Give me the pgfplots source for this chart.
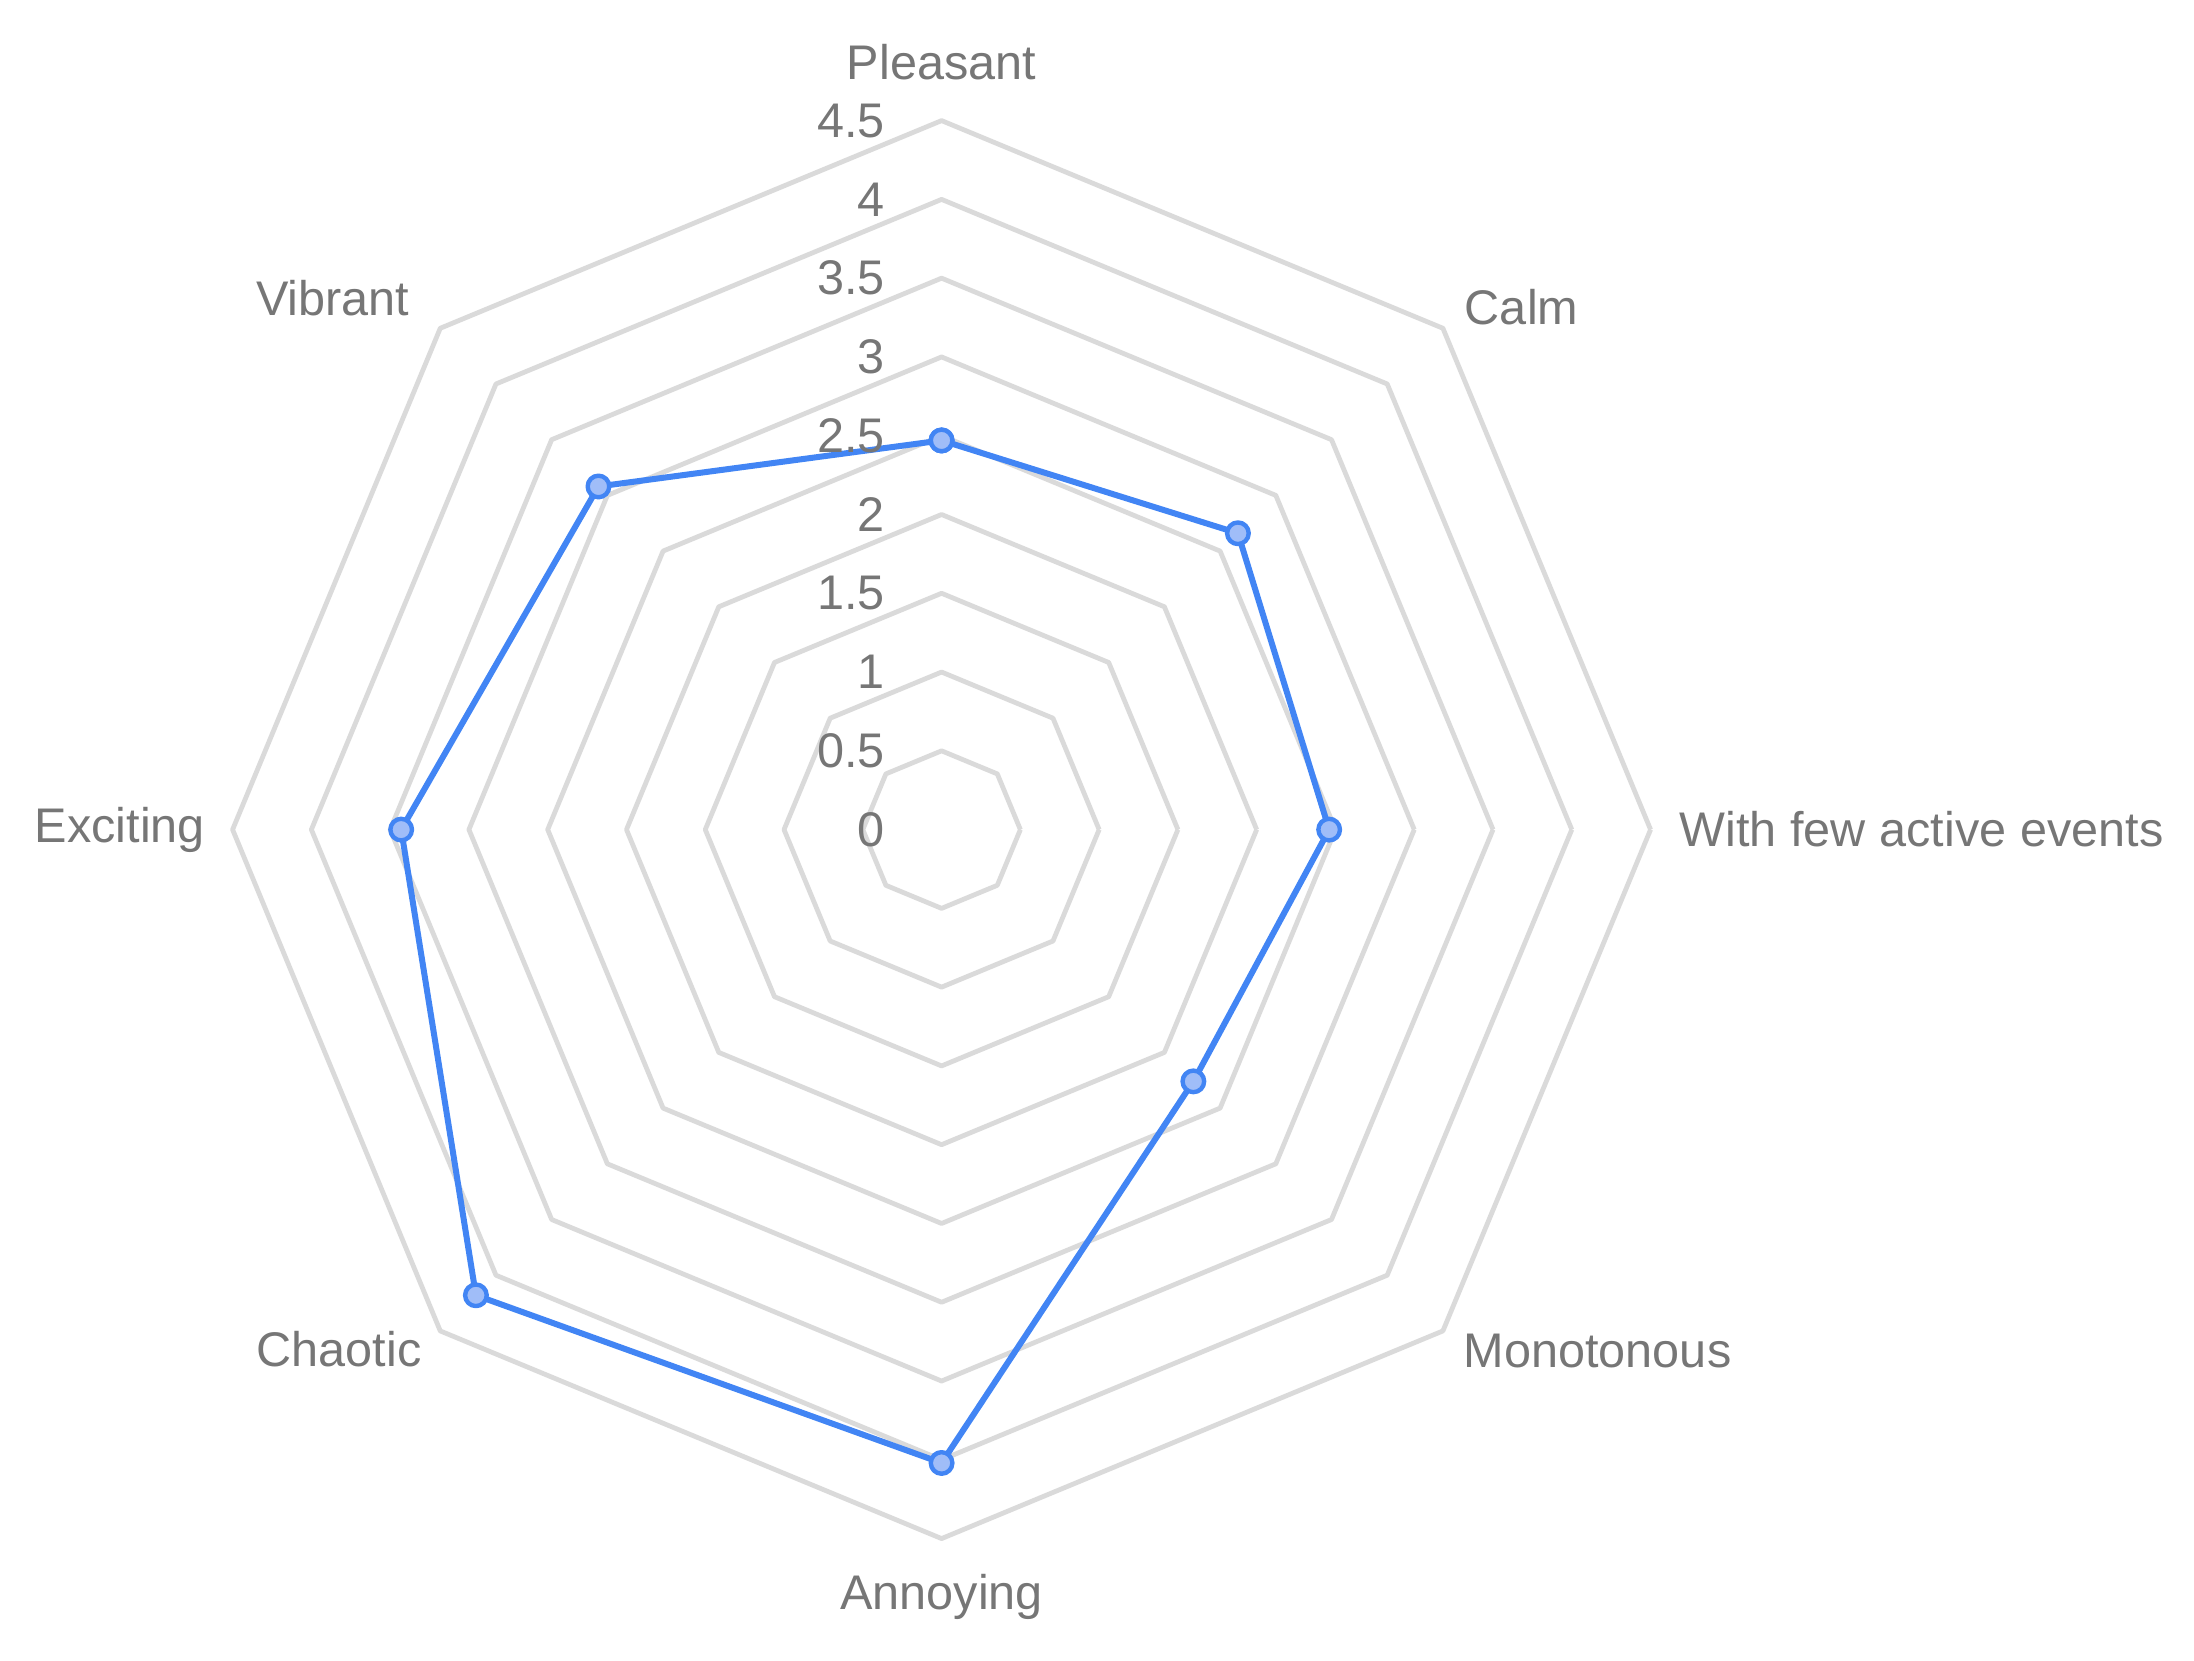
\documentclass[border=0pt]{standalone}
\usepackage{fontspec}
\setmainfont{Liberation Sans}
\usepackage{pgfplots}
\pgfplotsset{compat=1.18}
\usepgfplotslibrary{polar}

\definecolor{gridgray}{RGB}{218,218,218}
\definecolor{labelgray}{RGB}{118,118,118}
\definecolor{lineblue}{RGB}{66,133,244}
\definecolor{markfill}{RGB}{160,189,248}

\tikzset{lbl/.style={text=labelgray, inner sep=0pt, font=\fontsize{12.2}{14}\selectfont}}

\begin{document}
\begin{tikzpicture}
\begin{polaraxis}[
    hide axis,
    width=354.5bp, height=354.5bp,
    scale only axis,
    xmin=0, xmax=360,
    ymin=0, ymax=4.5,
    clip=false,
]
    % octagonal grid rings
    \pgfplotsinvokeforeach{0.5,1,1.5,2,2.5,3,3.5,4,4.5}{
        \addplot[gridgray, line width=1.2bp, line join=round]
            coordinates {(0,#1) (45,#1) (90,#1) (135,#1) (180,#1) (225,#1) (270,#1) (315,#1) (360,#1)};
    }

    % data series
    \addplot[lineblue, line width=1.5bp, line join=round,
             mark=*, mark size=2.7bp,
             mark options={fill=markfill, draw=lineblue, line width=1.1bp}]
        coordinates {
            (90,2.47)  % Pleasant
            (45,2.66)  % Calm
            (0,2.46)   % With few active events
            (315,2.26) % Monotonous
            (270,4.02) % Annoying
            (225,4.18) % Chaotic
            (180,3.43) % Exciting
            (135,3.08) % Vibrant
            (90,2.47)
        };

    % radial value labels
    \pgfplotsinvokeforeach{0.5,1,1.5,2,2.5,3,3.5,4,4.5}{
        \node[lbl, anchor=east, xshift=-14bp] at (axis cs:90,#1) {#1};
    }
    \node[lbl, anchor=east, xshift=-14bp] at (axis cs:0,0) {0};

    % category labels
    \node[lbl, anchor=center] at (axis cs:90,4.87)  {Pleasant};
    \node[lbl, anchor=west]   at (axis cs:45,4.69)  {Calm};
    \node[lbl, anchor=west]   at (axis cs:0,4.68)   {With few active events};
    \node[lbl, anchor=west]   at (axis cs:315,4.68) {Monotonous};
    \node[lbl, anchor=center] at (axis cs:270,4.87) {Annoying};
    \node[lbl, anchor=east]   at (axis cs:225,4.66) {Chaotic};
    \node[lbl, anchor=east]   at (axis cs:180,4.67) {Exciting};
    \node[lbl, anchor=east]   at (axis cs:135,4.77) {Vibrant};

    \coordinate (c) at (axis cs:0,0);
\end{polaraxis}
\pgfresetboundingbox
\path[use as bounding box] ([shift={(-235.4bp,-207.8bp)}]c) rectangle ([shift={(313.1bp,207.4bp)}]c);
\end{tikzpicture}
\end{document}
